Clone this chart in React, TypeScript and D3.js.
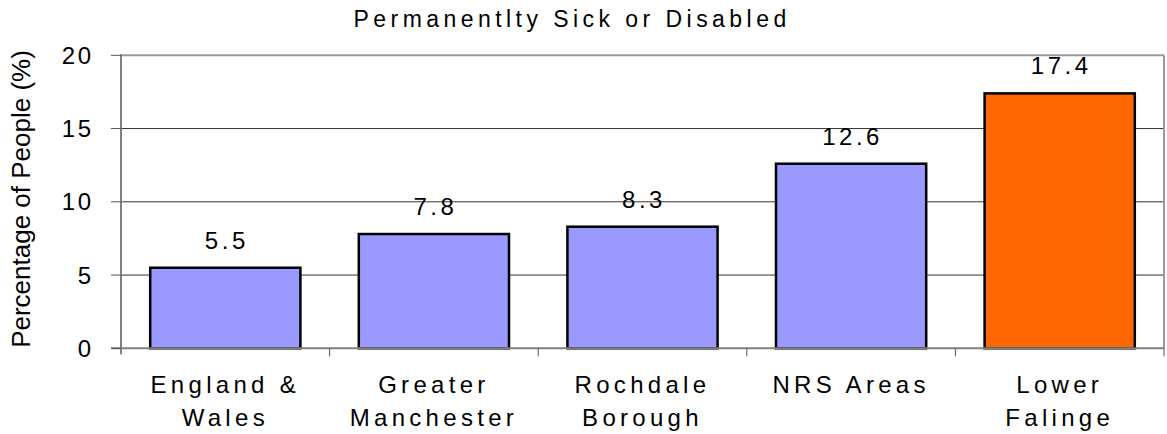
import React from "react";
import * as d3 from "d3";

const categories: string[][] = [
  ["England &", "Wales"],
  ["Greater", "Manchester"],
  ["Rochdale", "Borough"],
  ["NRS Areas"],
  ["Lower", "Falinge"],
];
const values: number[] = [5.5, 7.8, 8.3, 12.6, 17.4];
const barColors: string[] = ["#9999FF", "#9999FF", "#9999FF", "#9999FF", "#FF6600"];
const yTicks: number[] = [0, 5, 10, 15, 20];
const title = "Permanentlty Sick or Disabled";
const yLabel = "Percentage of People (%)";

const W = 1167;
const H = 434;
const left = 121;
const right = 1164;
const top = 55.3;
const bottom = 348.3;
const font = "'Liberation Sans', Arial, sans-serif";

export default function App() {
  const idx = values.map((_, i) => String(i));
  const x = d3.scaleBand<string>().domain(idx).range([left, right]).paddingInner(0.28).paddingOuter(0.14);
  const band = d3.scaleBand<string>().domain(idx).range([left, right]);
  const y = d3.scaleLinear().domain([0, 20]).range([bottom, top]);

  return (
    <svg width={W} height={H} style={{ position: "absolute", left: 0, top: 0, background: "#fff" }}>
      <rect x={0} y={0} width={W} height={H} fill="#fff" />
      <text x={353.5} y={27} textAnchor="start" fontFamily={font} fontSize={23} letterSpacing={4.45} fill="#000">
        {title}
      </text>
      {/* gridlines */}
      {yTicks.filter((t) => t > 0 && t < 20).map((t) => (
        <line key={t} x1={left} x2={right} y1={y(t)} y2={y(t)} stroke="#333" strokeWidth={1} />
      ))}
      {/* plot border top & right */}
      <line x1={left} x2={right} y1={y(20)} y2={y(20)} stroke="#999" strokeWidth={2} />
      <line x1={right} x2={right} y1={y(20)} y2={bottom} stroke="#999" strokeWidth={2} />
      {/* bars */}
      {values.map((v, i) => (
        <rect
          key={i}
          x={x(String(i))!}
          y={y(v)}
          width={x.bandwidth()}
          height={bottom - y(v)}
          fill={barColors[i]}
          stroke="#000"
          strokeWidth={2.5}
        />
      ))}
      {/* value labels */}
      {values.map((v, i) => (
        <text
          key={i}
          x={x(String(i))! + x.bandwidth() / 2 + 1.5}
          y={y(v) - 19}
          textAnchor="middle"
          fontFamily={font}
          fontSize={24}
          letterSpacing={3.5}
          fill="#000"
        >
          {v.toFixed(1)}
        </text>
      ))}
      {/* axes */}
      <line x1={left} x2={left} y1={top - 1} y2={bottom + 6} stroke="#808080" strokeWidth={2} />
      <line x1={left - 10} x2={right} y1={bottom} y2={bottom} stroke="#808080" strokeWidth={2} />
      {yTicks.map((t) => (
        <g key={t}>
          <line x1={left - 10} x2={left} y1={y(t)} y2={y(t)} stroke="#555" strokeWidth={1} />
          <text
            x={left - 27.5}
            y={y(t) + 8.5}
            textAnchor="end"
            fontFamily={font}
            fontSize={24}
            letterSpacing={2.5}
            fill="#000"
          >
            {t}
          </text>
        </g>
      ))}
      {idx.map((d, i) => (
        <line key={"t" + i} x1={band(d)! + band.bandwidth()} x2={band(d)! + band.bandwidth()} y1={bottom} y2={bottom + 8} stroke="#555" strokeWidth={1} />
      ))}
      {categories.map((lines, i) => (
        <text
          key={"c" + i}
          x={band(String(i))! + band.bandwidth() / 2}
          y={393}
          textAnchor="middle"
          fontFamily={font}
          fontSize={24}
          letterSpacing={4.3}
          fill="#000"
        >
          {lines.map((l, j) => (
            <tspan key={j} x={band(String(i))! + band.bandwidth() / 2} dy={j === 0 ? 0 : 33}>
              {l}
            </tspan>
          ))}
        </text>
      ))}
      <text
        transform={`translate(30, 199) rotate(-90)`}
        textAnchor="middle"
        fontFamily={font}
        fontSize={26}
        fill="#000"
      >
        {yLabel}
      </text>
    </svg>
  );
}
